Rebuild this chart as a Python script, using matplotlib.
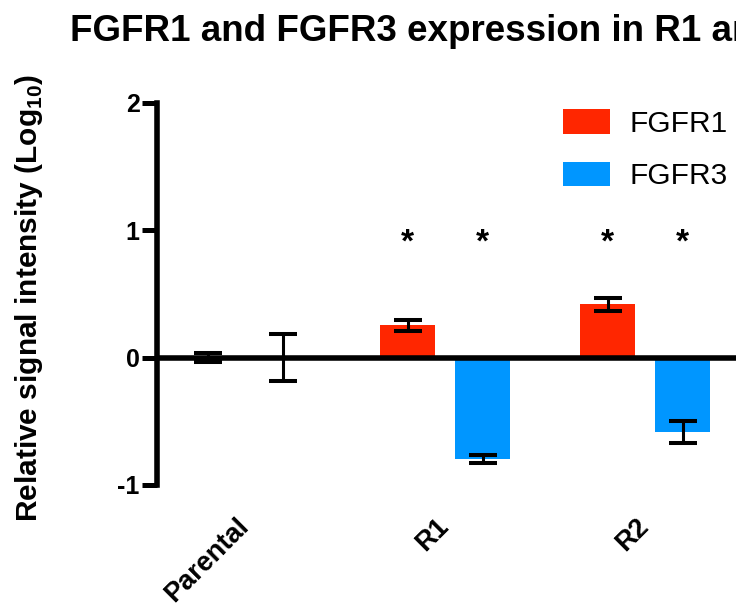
import matplotlib
matplotlib.use("Agg")
import matplotlib.pyplot as plt
import numpy as np

plt.rcParams['font.family'] = ['Liberation Sans', 'DejaVu Sans']
plt.rcParams['mathtext.fontset'] = 'custom'
plt.rcParams['mathtext.rm'] = 'Liberation Sans'
plt.rcParams['mathtext.bf'] = 'Liberation Sans:bold'

groups = ["Parental", "R1", "R2"]
fgfr1 = [0.0, 0.255, 0.42]
fgfr1_err = [0.037, 0.043, 0.05]
fgfr3 = [0.0, -0.797, -0.582]
fgfr3_err = [0.186, 0.031, 0.087]
# which bars get a significance star
sig1 = [False, True, True]
sig3 = [False, True, True]
star_height = 0.9

red = '#ff2600'
blue = '#0096ff'

fig = plt.figure(figsize=(7.36, 6.06), dpi=100)
ax = fig.add_axes([157/736, 1 - 485/606, 608/736, 382/606])

x = np.arange(len(groups))
off = 0.1875
w = 0.278

b1 = ax.bar(x - off, fgfr1, w, color=red, label="FGFR1", zorder=2)
b3 = ax.bar(x + off, fgfr3, w, color=blue, label="FGFR3", zorder=2)

ekw = dict(fmt='none', ecolor='black', elinewidth=2.2, capsize=10, capthick=2.9, zorder=4)
ax.errorbar(x - off, fgfr1, yerr=fgfr1_err, **ekw)
ax.errorbar(x + off, fgfr3, yerr=fgfr3_err, **ekw)

ax.axhline(0, color='black', lw=4, zorder=3)

for xs, flags in [(x - off, sig1), (x + off, sig3)]:
    for sx, f in zip(xs, flags):
        if f:
            ax.text(sx, star_height, '*', ha='center', va='center',
                    fontsize=24, fontweight='bold')

ax.set_xlim(-0.44, 2.6)
ax.set_ylim(-1, 2)
ax.set_yticks([-1, 0, 1, 2])
ax.set_yticklabels(['-1', '0', '1', '2'], fontsize=18, fontweight='bold')
ax.tick_params(axis='y', length=11, width=3.6, pad=1.5)

ax.set_xticks(x)
ax.set_xticklabels(groups, rotation=45, ha='right', va='center',
                   rotation_mode='anchor', fontsize=19.5, fontweight='bold')
ax.tick_params(axis='x', length=0, pad=27)

for s in ['top', 'right', 'bottom']:
    ax.spines[s].set_visible(False)
ax.spines['left'].set_linewidth(4)

ax.legend(handles=[b1, b3], loc='upper left', bbox_to_anchor=(563/736, 1 - 109/606),
          bbox_transform=fig.transFigure, frameon=False, fontsize=21.5,
          handlelength=1.57, handleheight=0.9, handletextpad=0.67,
          labelspacing=0.8, borderpad=0, borderaxespad=0)

fig.text(70/736, 1 - 41/606, "FGFR1 and FGFR3 expression in R1 and R2 cells",
         fontsize=26.5, fontweight='bold', ha='left', va='baseline')
fig.text(29/736, 1 - 298/606, r"Relative signal intensity (Log$_{\mathbf{10}}$)",
         fontsize=21.5, fontweight='bold', rotation=90, ha='center', va='center')

fig.savefig("out.png", dpi=100)
